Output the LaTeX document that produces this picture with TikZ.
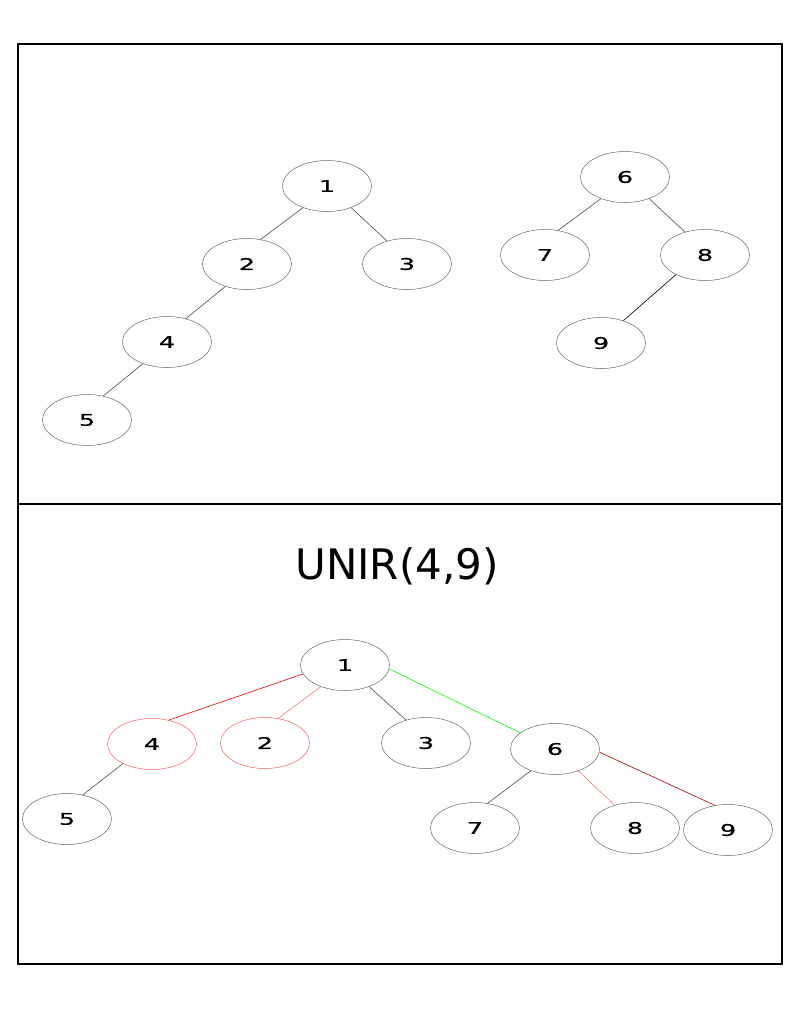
\documentclass[tikz,border=0pt]{standalone}
\usepackage{fontspec}
\setmainfont{DejaVu Sans}
\newfontfamily\widefont[FakeStretch=1.6, FakeBold=0.8]{DejaVu Sans}
\usetikzlibrary{shapes.geometric}
\tikzstyle{vertex} = [ellipse, draw=black!60, line width=0.5pt, minimum width=89pt, minimum height=51pt, inner sep=0pt, font=\widefont\fontsize{16}{16}\selectfont]
\tikzstyle{marked} = [vertex, draw=red!65]
\tikzstyle{edge} = [line width=0.6pt, draw=black!70]
\tikzstyle{frame} = [line width=1.3pt]

\begin{document}
\begin{tikzpicture}[x=1pt, y=-1pt]
	\useasboundingbox (0,0) rectangle (794,1021);
	\draw [frame] (18,44) rectangle (782,504);
	\draw [frame] (18,504) rectangle (782,964);

	% before
	\node (a1) [vertex] at (327,186) {1};
	\node (a2) [vertex] at (247,264) {2};
	\node (a3) [vertex] at (407,264) {3};
	\node (a4) [vertex] at (167,342) {4};
	\node (a5) [vertex] at (87,420) {5};
	\node (a6) [vertex] at (625,177) {6};
	\node (a7) [vertex] at (545,255) {7};
	\node (a8) [vertex] at (705,255) {8};
	\node (a9) [vertex] at (601,343) {9};

	\draw [edge] (a1.222) -- (a2.61);
	\draw [edge] (a1.318) -- (a3.131);
	\draw [edge] (a2.226) -- (a4.51);
	\draw [edge] (a4.222) -- (a5.56);
	\draw [edge] (a6.222) -- (a7.62);
	\draw [edge] (a6.318) -- (a8.131);
	\draw [edge, draw=black] (a8.214) -- (a9.45);

	% after
	\node (title) at (397,566) {\fontsize{42}{42}\selectfont UNIR(4,9)};
	\node (b1) [vertex] at (345,665) {1};
	\node (b4) [marked] at (152,744) {4};
	\node (b2) [marked] at (265,743) {2};
	\node (b3) [vertex] at (426,743) {3};
	\node (b6) [vertex] at (555,749) {6};
	\node (b5) [vertex] at (67,819) {5};
	\node (b7) [vertex] at (475,828) {7};
	\node (b8) [vertex] at (635,828) {8};
	\node (b9) [vertex] at (728,830) {9};

	\draw [edge, draw=red] (b1.192) -- (b4.55);
	\draw [edge, draw=red!55] (b1.222) -- (b2.62);
	\draw [edge] (b1.318) -- (b3.131);
	\draw [edge, draw=green] (b1.355) -- (b6.155);
	\draw [edge] (b4.214) -- (b5.57);
	\draw [edge] (b6.222) -- (b7.63);
	\draw [edge, draw=red!55] (b6.317) -- (b8.132);
	\draw [edge, draw=red!70!black] (b6.356) -- (b9.118);
\end{tikzpicture}
\end{document}
